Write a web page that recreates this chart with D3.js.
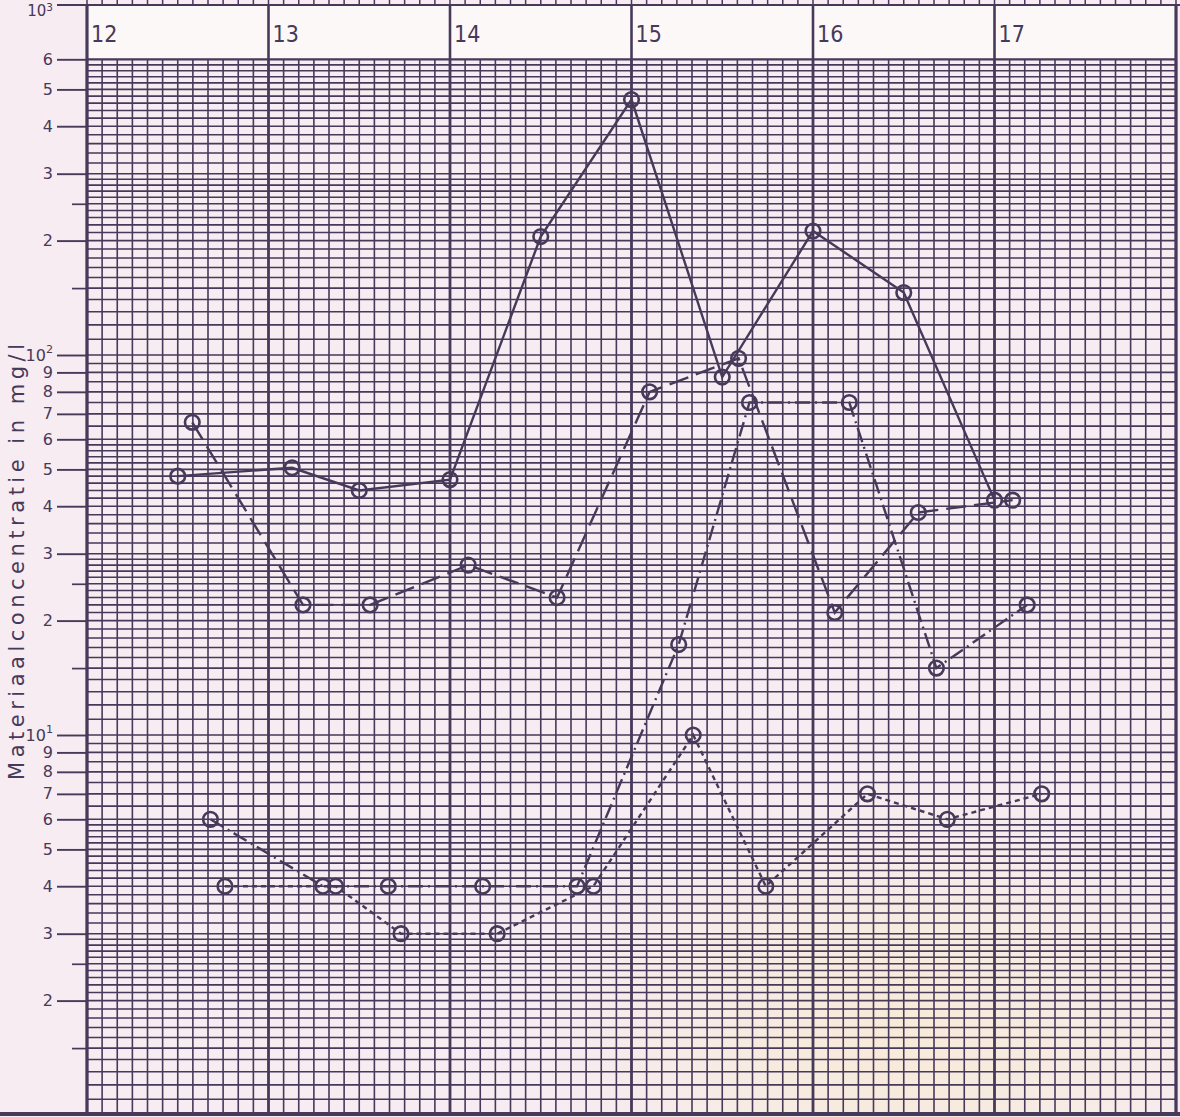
<!DOCTYPE html>
<html>
<head>
<meta charset="utf-8">
<script src="https://cdn.jsdelivr.net/npm/d3@7"></script>
<style>
  html, body { margin: 0; padding: 0; background: #f6ecf1; }
  svg { display: block; }
</style>
</head>
<body>
<script>
// Measuring series: day of month (decimal) and material concentration in mg/l
const daysA = [12.5, 13.13, 13.5, 14.0, 14.5, 15.0, 15.5, 16.0, 16.5, 17.0];
const concA = [48, 50.5, 44, 47, 205, 470, 87.5, 212, 146, 41.5];

const daysB = [12.58, 13.19, 13.56, 14.1, 14.59, 15.1, 15.59, 16.12, 16.58, 17.1];
const concB = [66.5, 22, 22, 28, 23, 80, 98, 21, 38.5, 41.5];

const daysC = [12.68, 13.3, 13.66, 14.18, 14.7, 15.26, 15.65, 16.2, 16.68, 17.18];
const concC = [6, 4, 4, 4, 4, 17.3, 75, 75, 15, 22];

const daysD = [12.76, 13.37, 13.73, 14.26, 14.79, 15.34, 15.74, 16.3, 16.74, 17.26];
const concD = [4, 4, 3, 3, 4, 10, 4, 7, 6, 7];

// Day columns along the top strip
const dayValues = [12, 13, 14, 15, 16, 17];
const dayLabels = ["12", "13", "14", "15", "16", "17"];

// Labelled ticks of the logarithmic concentration axis
const yTickValues = [2, 3, 4, 5, 6, 7, 8, 9, 10, 20, 30, 40, 50, 60, 70, 80, 90, 100, 200, 300, 400, 500, 600];
const yTickLabels = ["2", "3", "4", "5", "6", "7", "8", "9", "10^1",
                     "2", "3", "4", "5", "6", "7", "8", "9", "10^2",
                     "2", "3", "4", "5", "6"];
const yMinorTicks = [1.5, 2.5, 15, 25, 150, 250];
const topLabel = "10^3";
const yTitle = "Materiaalconcentratie in mg/l";

const W = 1180, H = 1117;
const ink = "#47395a";
const frameTop = 5;

const svg = d3.select("body").append("svg")
  .attr("width", W).attr("height", H)
  .attr("viewBox", `0 0 ${W} ${H}`);

// paper
const defs = svg.append("defs");
const haze = defs.append("radialGradient").attr("id", "haze")
  .attr("cx", 0.5).attr("cy", 0.5).attr("r", 0.5);
haze.append("stop").attr("offset", "0%").attr("stop-color", "#f8eacf").attr("stop-opacity", 0.75);
haze.append("stop").attr("offset", "60%").attr("stop-color", "#f8eacf").attr("stop-opacity", 0.35);
haze.append("stop").attr("offset", "100%").attr("stop-color", "#f8eacf").attr("stop-opacity", 0);

svg.append("rect").attr("width", W).attr("height", H).attr("fill", "#f6ecf1");
svg.append("ellipse").attr("cx", 900).attr("cy", 1020).attr("rx", 360).attr("ry", 240)
  .attr("fill", "url(#haze)");

// scales
const x = d3.scaleLinear().domain([12, 18]).range([87, 1176]);
const y = d3.scaleLog().domain([1, 1000]).range([1115, -25]);
const headerBottom = y(600);

// horizontal rulings of the semi-log paper: 1-3 by 0.1, 3-6 by 0.2, 6-10 by 0.5 in each decade
const gridVals = [];
[1, 10, 100].forEach(p => {
  for (let v = 10; v < 30; v += 1) gridVals.push(v / 10 * p);
  for (let v = 30; v < 60; v += 2) gridVals.push(v / 10 * p);
  for (let v = 60; v < 100; v += 5) gridVals.push(v / 10 * p);
});
const hLines = gridVals.filter(v => v >= 1 && v <= 600);

const grid = svg.append("g").attr("stroke", ink).attr("fill", "none");
grid.selectAll("line.h").data(hLines).join("line").attr("class", "h")
  .attr("x1", x(12)).attr("x2", x(18))
  .attr("y1", d => y(d)).attr("y2", d => y(d))
  .attr("stroke-width", 1.6);

// vertical rulings every two hours, heavier at midnight
const vSteps = d3.range(0, 6 * 12 + 1);
grid.selectAll("line.v").data(vSteps).join("line").attr("class", "v")
  .attr("x1", d => x(12 + d / 12)).attr("x2", d => x(12 + d / 12))
  .attr("y1", headerBottom).attr("y2", y(1))
  .attr("stroke-width", d => d % 12 === 0 ? 2.8 : 1.6);
grid.selectAll("line.vt").data(vSteps).join("line").attr("class", "vt")
  .attr("x1", d => x(12 + d / 12)).attr("x2", d => x(12 + d / 12))
  .attr("y1", 0).attr("y2", frameTop)
  .attr("stroke-width", 1.5);

// day strip
svg.append("rect")
  .attr("x", x(12)).attr("y", frameTop)
  .attr("width", x(18) - x(12)).attr("height", headerBottom - frameTop)
  .attr("fill", "#fcf8f7");
svg.append("g").selectAll("line").data(dayValues.concat([18])).join("line")
  .attr("x1", d => x(d)).attr("x2", d => x(d))
  .attr("y1", frameTop).attr("y2", headerBottom)
  .attr("stroke", ink).attr("stroke-width", 2.6);
svg.append("line").attr("x1", x(12)).attr("x2", x(18))
  .attr("y1", headerBottom).attr("y2", headerBottom)
  .attr("stroke", ink).attr("stroke-width", 2.2);
svg.append("g").selectAll("text").data(dayValues).join("text")
  .attr("x", d => x(d) + 4).attr("y", 42)
  .attr("font-family", "'Liberation Sans Narrow', 'DejaVu Sans Condensed', sans-serif")
  .attr("font-size", 23).attr("fill", ink)
  .text((d, i) => dayLabels[i]);

// frame
svg.append("line").attr("x1", 57).attr("x2", W).attr("y1", frameTop).attr("y2", frameTop)
  .attr("stroke", ink).attr("stroke-width", 2.2);
svg.append("line").attr("x1", x(12)).attr("x2", x(12)).attr("y1", frameTop).attr("y2", y(1))
  .attr("stroke", ink).attr("stroke-width", 2.8);
svg.append("line").attr("x1", x(18)).attr("x2", x(18)).attr("y1", frameTop).attr("y2", y(1))
  .attr("stroke", ink).attr("stroke-width", 2.8);
svg.append("line").attr("x1", 0).attr("x2", W).attr("y1", y(1) - 1).attr("y2", y(1) - 1)
  .attr("stroke", ink).attr("stroke-width", 4);

// helper: "10^2" -> 10 with superscript 2
function writeLabel(sel, s, rise) {
  sel.text(null);
  const parts = s.split("^");
  sel.append("tspan").text(parts[0]);
  if (parts[1]) {
    sel.append("tspan").attr("dy", rise || "-0.7em").attr("font-size", "0.7em").text(parts[1]);
  }
}

// concentration axis
const yAxis = d3.axisLeft(y)
  .tickValues(yTickValues)
  .tickSize(30)
  .tickPadding(4)
  .tickFormat((d, i) => yTickLabels[i]);
const gy = svg.append("g").attr("transform", `translate(${x(12)},0)`).call(yAxis);
gy.select(".domain").remove();
gy.selectAll(".tick line").attr("stroke", ink).attr("stroke-width", 1.9);
gy.selectAll(".tick text")
  .attr("fill", ink)
  .attr("font-family", "'DejaVu Sans', sans-serif")
  .attr("font-size", 16)
  .each(function (d, i) { writeLabel(d3.select(this), yTickLabels[i]); });

const yMinor = d3.axisLeft(y).tickValues(yMinorTicks).tickSize(15).tickFormat("");
const gm = svg.append("g").attr("transform", `translate(${x(12)},0)`).call(yMinor);
gm.select(".domain").remove();
gm.selectAll(".tick line").attr("stroke", ink).attr("stroke-width", 1.7);

// label at the top edge of the sheet
const tl = svg.append("text")
  .attr("x", 53).attr("y", 16)
  .attr("text-anchor", "end")
  .attr("fill", ink)
  .attr("font-family", "'DejaVu Sans', sans-serif")
  .attr("font-size", 15);
writeLabel(tl, topLabel, "-0.45em");

// axis title
svg.append("text")
  .attr("transform", "translate(24,562) rotate(-90)")
  .attr("text-anchor", "middle")
  .attr("fill", ink)
  .attr("font-family", "'DejaVu Sans', sans-serif")
  .attr("font-size", 21)
  .attr("textLength", 436)
  .attr("lengthAdjust", "spacing")
  .text(yTitle);

// series
const series = [
  { days: daysA, conc: concA, dash: null },
  { days: daysB, conc: concB, dash: "20,8" },
  { days: daysC, conc: concC, dash: "15,5,2,5" },
  { days: daysD, conc: concD, dash: "5,4" }
];

const line = d3.line().x(d => x(d[0])).y(d => y(d[1]));

const gs = svg.append("g");
series.forEach(s => {
  const pts = s.days.map((d, i) => [d, s.conc[i]]);
  gs.append("path")
    .datum(pts)
    .attr("d", line)
    .attr("fill", "none")
    .attr("stroke", ink)
    .attr("stroke-width", 2.4)
    .attr("stroke-dasharray", s.dash);
  gs.append("g").selectAll("circle").data(pts).join("circle")
    .attr("cx", d => x(d[0])).attr("cy", d => y(d[1]))
    .attr("r", 7.3)
    .attr("fill", "none")
    .attr("stroke", ink)
    .attr("stroke-width", 2.6);
});
</script>
</body>
</html>
